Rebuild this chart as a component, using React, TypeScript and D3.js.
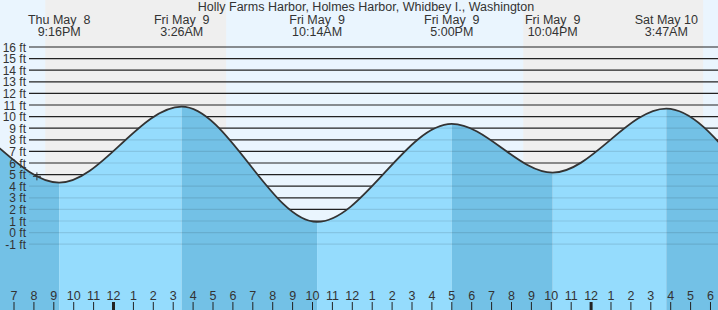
import { useMemo } from 'react';
import * as d3 from 'd3';

// hours counted from Thu May 8 00:00
const tideTimes = [8.9, 15.3, 21.27, 27.43, 34.23, 41.0, 46.07, 51.78, 59.3, 65.8];
const tideHeights = [-0.3, 10.2, 4.31, 10.86, 0.92, 9.37, 5.17, 10.69, 0.5, 10.9];
const labelDays = ['Thu May  8', 'Fri May  9', 'Fri May  9', 'Fri May  9', 'Fri May  9', 'Sat May 10'];
const labelTimes = ['9:16PM', '3:26AM', '10:14AM', '5:00PM', '10:04PM', '3:47AM'];
const nights = [[20.57, 29.66], [44.59, 53.63]];
const ftTicks = [-1, 0, 1, 2, 3, 4, 5, 6, 7, 8, 9, 10, 11, 12, 13, 14, 15, 16];
const hourTicks = d3.range(19, 55);
const nowTime = 20.15;
const nowHeight = 4.85;
const title = 'Holly Farms Harbor, Holmes Harbor, Whidbey I., Washington';

const W = 718;
const H = 310;
const FONT = '"Liberation Sans", Arial, sans-serif';

export default function App() {
  const x = d3.scaleLinear().domain([18.296, 54.377]).range([0, W]);
  const y = d3.scaleLinear().domain([0, 16]).range([232.6, 47]);

  const pts = useMemo(() => tideTimes.map((t, i) => [t, tideHeights[i]] as [number, number]), []);

  const line = d3.line<[number, number]>()
    .x(d => x(d[0]))
    .y(d => y(d[1]))
    .curve(d3.curveMonotoneX);
  const water = d3.area<[number, number]>()
    .x(d => x(d[0]))
    .y0(H)
    .y1(d => y(d[1]))
    .curve(d3.curveMonotoneX);
  const sky = d3.area<[number, number]>()
    .x(d => x(d[0]))
    .y0(0)
    .y1(d => y(d[1]))
    .curve(d3.curveMonotoneX);

  const nx = x(nowTime);
  const ny = y(nowHeight);
  // labelled extremes are the ones inside the window
  const shown = pts.slice(2, 8);

  return (
    <div style={{ position: 'absolute', left: 0, top: 0 }}>
      <svg width={W} height={H} style={{ display: 'block', fontFamily: FONT }}>
        <defs>
          <clipPath id="waterClip"><path d={water(pts) || ''} /></clipPath>
          <clipPath id="skyClip"><path d={sky(pts) || ''} /></clipPath>
        </defs>

        {/* day / night background */}
        <rect x={0} y={0} width={W} height={H} fill="#eaf5fe" />
        {nights.map((n, i) => (
          <rect key={i} x={x(n[0])} y={0} width={x(n[1]) - x(n[0])} height={H} fill="#efefef" />
        ))}

        {/* water, darker while falling */}
        <g clipPath="url(#waterClip)">
          {pts.slice(1).map((p, i) => {
            const prev = pts[i];
            return (
              <rect key={i} x={x(prev[0])} y={0} width={x(p[0]) - x(prev[0])} height={H}
                fill={p[1] < prev[1] ? '#73c1e6' : '#95dcfd'} />
            );
          })}
        </g>

        {/* grid lines */}
        <g clipPath="url(#skyClip)">
          {ftTicks.map(v => (
            <line key={v} x1={29} x2={W} y1={y(v)} y2={y(v)} stroke="#222" strokeWidth={1.2} />
          ))}
        </g>
        <g clipPath="url(#waterClip)">
          {ftTicks.map(v => (
            <line key={v} x1={29} x2={W} y1={y(v)} y2={y(v)} stroke="#000" strokeOpacity={0.1} strokeWidth={1.2} />
          ))}
        </g>

        {/* y labels */}
        {ftTicks.map(v => (
          <text key={v} x={26} y={y(v) + 4.5} textAnchor="end" fontSize={12} fill="#333">{v} ft</text>
        ))}

        {/* tide curve */}
        <path d={line(pts) || ''} fill="none" stroke="#333" strokeWidth={1.8} />

        {/* current time marker */}
        <path d={`M${nx - 4},${ny}H${nx + 4}M${nx},${ny - 4}V${ny + 4}`} stroke="#333" strokeWidth={1} />

        {/* title and extreme labels */}
        <text x={366} y={11} textAnchor="middle" fontSize={12.5} fill="#333">{title}</text>
        {shown.map((p, i) => (
          <g key={i} fill="#333" fontSize={12.5} textAnchor="middle">
            <text x={x(p[0])} y={24} xmlSpace="preserve" style={{ whiteSpace: 'pre' }}>{labelDays[i]}</text>
            <text x={x(p[0])} y={36}>{labelTimes[i]}</text>
          </g>
        ))}

        {/* hour axis */}
        {hourTicks.map(h => {
          const hr = h % 12 === 0 ? 12 : h % 12;
          const midnight = h % 24 === 0;
          return (
            <g key={h}>
              <line x1={x(h)} x2={x(h)} y1={302} y2={H} stroke="#222" strokeWidth={midnight ? 3 : 1} />
              <text x={x(h)} y={300} textAnchor="middle" fontSize={12.5} fill="#333">{hr}</text>
            </g>
          );
        })}
      </svg>
    </div>
  );
}
